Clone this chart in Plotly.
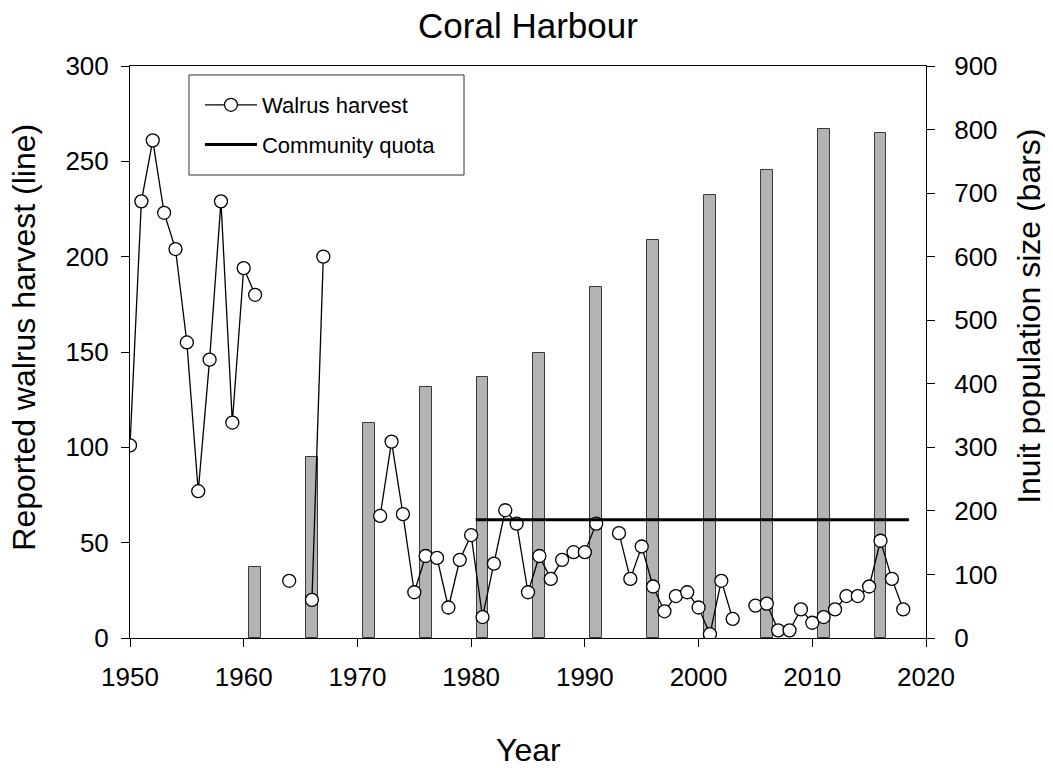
import plotly.graph_objects as go

# ---- data ----
years = list(range(1950, 2019))
harvest = [101, 229, 261, 223, 204, 155, 77, 146, 229, 113,   # 1950-1959
           194, 180, None, None, 30, None, 20, 200, None, None,  # 1960-1969
           None, None, 64, 103, 65, 24, 43, 42, 16, 41,          # 1970-1979
           54, 11, 39, 67, 60, 24, 43, 31, 41, 45,               # 1980-1989
           45, 60, None, 55, 31, 48, 27, 14, 22, 24,             # 1990-1999
           16, 2, 30, 10, None, 17, 18, 4, 4, 15,                # 2000-2009
           8, 11, 15, 22, 22, 27, 51, 31, 15]                    # 2010-2018

census_years = [1961, 1966, 1971, 1976, 1981, 1986, 1991, 1996, 2001, 2006, 2011, 2016]
population = [111, 285, 338, 395, 410, 449, 552, 627, 697, 737, 801, 795]

quota_years = [1980.4, 2018.5]
quota_values = [62, 62]

x_ticks = [1950, 1960, 1970, 1980, 1990, 2000, 2010, 2020]

FONT = "Arial, Liberation Sans, Helvetica, sans-serif"

# the page body has an 8px margin; size the figure so it fills the window
W, H = 1045, 760

fig = go.Figure()

fig.add_trace(go.Bar(
    x=census_years, y=population, width=1.05,
    marker=dict(color="#b3b3b3", line=dict(color="#3a3a3a", width=1)),
    showlegend=False, yaxis="y", name="Inuit population",
))

fig.add_trace(go.Scatter(
    x=years, y=harvest, mode="lines+markers", name="Walrus harvest",
    line=dict(color="black", width=1.3),
    marker=dict(symbol="circle", size=13, color="white", line=dict(color="black", width=1.3)),
    connectgaps=False, yaxis="y2", legendgroup="a",
))

fig.add_trace(go.Scatter(
    x=quota_years, y=quota_values, mode="lines", name="Community quota",
    line=dict(color="black", width=3), yaxis="y2", legendgroup="b",
))

axis_common = dict(showline=True, linecolor="black", linewidth=1, ticks="outside",
                   ticklen=8, tickcolor="black", showgrid=False, zeroline=False,
                   tickfont=dict(size=26, color="black", family=FONT))

fig.update_layout(
    width=W, height=H,
    margin=dict(l=122, r=127, t=58, b=130),
    paper_bgcolor="white", plot_bgcolor="white",
    font=dict(family=FONT, color="black"),
    title=dict(text="Coral Harbour", x=0.5, xref="paper", xanchor="center",
               y=1 - 18 / H, yanchor="middle", font=dict(size=35, color="black")),
    xaxis=dict(range=[1950, 2020], tickvals=x_ticks, mirror=True,
               ticklabelstandoff=8, **axis_common),
    yaxis=dict(range=[0, 900], dtick=100, side="right", ticklabelstandoff=14, **axis_common),
    yaxis2=dict(range=[0, 300], dtick=50, side="left", overlaying="y", ticklabelstandoff=7,
                **axis_common),
    legend=dict(x=0.0879, y=0.9685, xanchor="left", yanchor="top",
                bgcolor="rgba(0,0,0,0)", borderwidth=0, itemwidth=52,
                font=dict(size=22, color="black", family=FONT),
                traceorder="grouped", tracegroupgap=8),
    shapes=[dict(type="rect", xref="paper", yref="paper",
                 x0=0.0741, x1=0.4196, y0=0.8094, y1=0.9843,
                 line=dict(color="#333333", width=1), fillcolor="rgba(0,0,0,0)", layer="above")],
    bargap=0,
    annotations=[
        dict(text="Year", xref="paper", yref="paper", x=0.5, y=-0.196,
             xanchor="center", yanchor="middle", showarrow=False,
             font=dict(size=32, color="black", family=FONT)),
        dict(text="Reported walrus harvest (line)", xref="paper", yref="paper",
             x=-0.1325, y=0.526, textangle=-90, xanchor="center", yanchor="middle",
             showarrow=False, font=dict(size=32, color="black", family=FONT)),
        dict(text="Inuit population size (bars)", xref="paper", yref="paper",
             x=1.1285, y=0.562, textangle=-90, xanchor="center", yanchor="middle",
             showarrow=False, font=dict(size=32, color="black", family=FONT)),
    ],
)

fig.write_html("out.html")
